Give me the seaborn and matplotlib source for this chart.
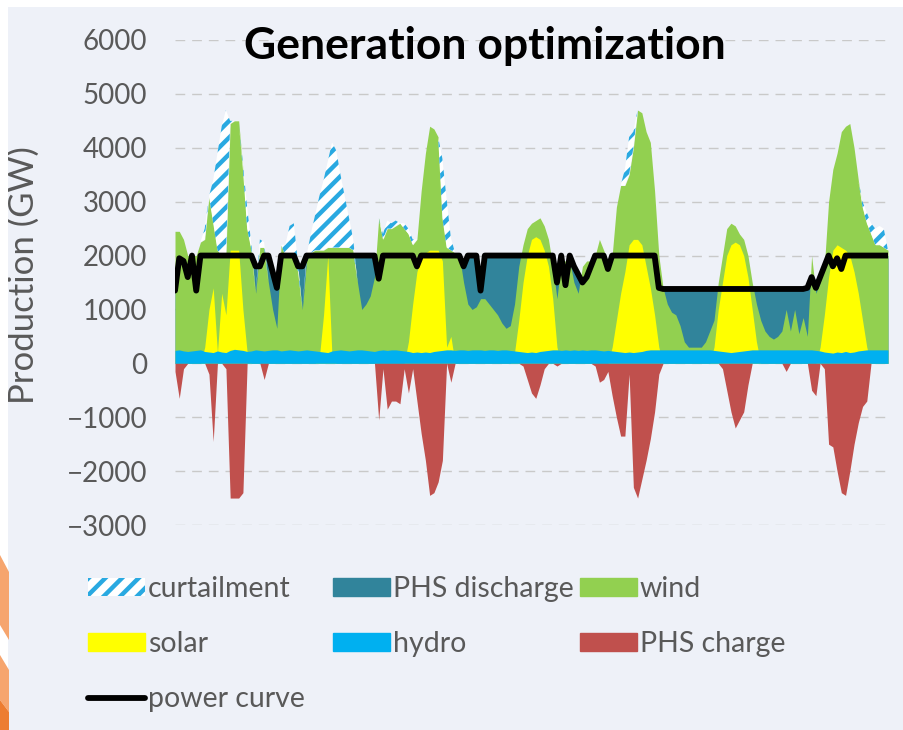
import numpy as np
import matplotlib.pyplot as plt
import seaborn as sns
from matplotlib.patches import Patch, Rectangle, Polygon
from matplotlib.lines import Line2D

# one week, hourly (168 h + closing point)
hours = np.arange(169)

wind = [
    2450, 2450, 2300, 2000, 2000, 2000, 2250, 2300, 3100, 2600, 2100, 2000, 2000, 4450, 4500, 4500, 3600, 2500, 2100, 1300, 2150, 2150, 1500, 1000,
    650, 2200, 2000, 2000, 2000, 1700, 1000, 1900, 2050, 2100, 2100, 2100, 2150, 2150, 2150, 2150, 2150, 2150, 2100, 1500, 1000, 1100, 1250, 1600,
    2700, 2300, 2500, 2500, 2550, 2600, 2500, 2400, 2200, 2300, 3200, 3900, 4400, 4350, 4200, 2700, 2150, 2100, 2050, 2000, 1500, 1100, 1000, 1050,
    1200, 1200, 1100, 1000, 900, 750, 650, 700, 1100, 1800, 2200, 2500, 2600, 2650, 2700, 2550, 2300, 1800, 1200, 1900, 1900, 1900, 1500, 1300,
    1800, 1900, 1900, 2000, 2300, 2100, 1900, 2000, 2900, 3300, 3300, 3500, 4000, 4700, 4650, 4300, 4100, 3200, 2000, 1400, 1100, 950, 900, 700,
    400, 300, 300, 300, 300, 400, 600, 800, 1500, 2000, 2500, 2600, 2550, 2400, 2300, 2000, 1500, 1100, 800, 600, 500, 450, 500, 600,
    1000, 600, 1000, 550, 850, 500, 2000, 1300, 1500, 1800, 3000, 3600, 3900, 4300, 4400, 4450, 4000, 3400, 2900, 2600, 2400, 2200, 2200, 2150, 2100,
]

curtailment = [
    0, 0, 0, 0, 0, 0, 0, 200, 0, 800, 1800, 2400, 2700, 50, 0, 0, 100, 400, 100, 0, 150, 100, 0, 0,
    0, 0, 200, 550, 600, 150, 0, 100, 350, 650, 1000, 1300, 1600, 1950, 1800, 1350, 950, 550, 200, 0, 0, 0, 0, 0,
    0, 100, 150, 100, 100, 0, 100, 100, 100, 0, 0, 0, 0, 0, 0, 1100, 900, 230, 0, 0, 0, 0, 0, 0,
    0, 0, 0, 0, 0, 0, 0, 0, 0, 0, 0, 0, 0, 0, 0, 0, 0, 0, 0, 0, 0, 0, 0, 0,
    0, 0, 0, 0, 0, 0, 0, 0, 0, 0, 300, 700, 300, 0, 0, 0, 0, 0, 0, 0, 0, 0, 0, 0,
    0, 0, 0, 0, 0, 0, 0, 0, 0, 0, 0, 0, 0, 0, 0, 0, 0, 0, 0, 0, 0, 0, 0, 0,
    0, 0, 0, 0, 0, 0, 0, 0, 0, 0, 0, 0, 0, 0, 0, 0, 0, 0, 100, 200, 200, 300, 350, 350, 0,
]

solar = [
    0, 0, 0, 0, 0, 0, 0, 300, 1000, 1400, 200, 1300, 900, 2100, 2100, 2100, 1000, 200, 0, 0, 0, 0, 0, 0,
    0, 0, 0, 0, 0, 0, 0, 0, 0, 0, 100, 900, 2000, 100, 0, 0, 0, 0, 0, 0, 0, 0, 0, 0,
    0, 0, 0, 0, 0, 0, 0, 400, 1100, 1700, 1950, 2050, 2100, 2100, 2100, 1900, 300, 500, 0, 0, 0, 0, 0, 0,
    0, 0, 0, 0, 0, 0, 0, 0, 200, 800, 1500, 2000, 2300, 2350, 2300, 2100, 1800, 1200, 300, 0, 0, 0, 0, 0,
    0, 0, 0, 0, 0, 0, 0, 300, 800, 1300, 1700, 2200, 2300, 2300, 2200, 1800, 1400, 900, 300, 0, 0, 0, 0, 0,
    0, 0, 0, 0, 0, 0, 0, 300, 1000, 1500, 2000, 2200, 2250, 2200, 2000, 1600, 1000, 400, 0, 0, 0, 0, 0, 0,
    0, 0, 0, 0, 0, 0, 0, 0, 300, 900, 1600, 2100, 2200, 2150, 2100, 2000, 1700, 1300, 800, 300, 0, 0, 0, 0, 0,
]

hydro = [
    240, 250, 230, 220, 230, 240, 250, 220, 210, 200, 230, 210, 200, 240, 260, 250, 240, 220, 230, 250, 240, 230, 240, 250,
    250, 230, 240, 250, 240, 230, 240, 250, 240, 230, 220, 210, 200, 230, 240, 250, 240, 230, 240, 250, 250, 240, 230, 220,
    240, 250, 240, 250, 250, 240, 230, 220, 200, 210, 200, 210, 200, 220, 230, 240, 250, 250, 240, 250, 250, 240, 250, 250,
    250, 240, 250, 250, 240, 250, 250, 240, 230, 220, 210, 200, 210, 200, 220, 230, 240, 250, 250, 240, 250, 240, 250, 240,
    250, 240, 250, 250, 240, 230, 240, 230, 220, 210, 200, 210, 200, 210, 220, 240, 250, 250, 250, 250, 250, 250, 250, 250,
    250, 250, 250, 250, 250, 250, 250, 240, 230, 220, 210, 200, 210, 220, 230, 240, 250, 250, 250, 250, 250, 250, 250, 250,
    250, 250, 250, 250, 250, 250, 250, 240, 230, 210, 200, 190, 210, 200, 220, 200, 210, 230, 240, 250, 250, 250, 250, 250, 250,
]

phs_charge = [
    -150, -650, -100, 0, 0, 0, 0, 0, -200, -1450, 0, 0, -100, -2500, -2500, -2500, -2400, 0, 0, 0, 0, -300, 0, 0,
    0, 0, 0, 0, 0, 0, 0, 0, 0, 0, 0, 0, 0, 0, 0, 0, 0, 0, 0, 0, 0, 0, 0, 0,
    -1050, -100, -850, -700, -700, -750, -100, -550, -100, -700, -1300, -1800, -2450, -2400, -2200, -1800, 0, -350, 0, 0, 0, 0, 0, 0,
    0, 0, 0, 0, 0, 0, 0, 0, 0, 0, -50, -300, -550, -650, -400, -100, 0, 0, -50, 0, 0, 0, 0, 0,
    0, 0, 0, -50, -350, -300, -150, -600, -1000, -1350, -1350, -200, -2300, -2500, -2150, -1800, -1400, -900, -200, 0, 0, 0, 0, 0,
    0, 0, 0, 0, 0, 0, 0, 0, 0, -100, -500, -900, -1200, -1050, -900, -400, 0, 0, 0, 0, 0, 0, 0, 0,
    -150, 0, 0, 0, 0, 0, -500, -600, 0, -100, -1500, -1550, -2000, -2400, -2450, -2000, -1500, -1100, -800, -700, 0, 0, 0, 0, 0,
]

# demand met; PHS discharge fills the gap up to this curve
power_curve = [
    1350, 1950, 1900, 1600, 2000, 1350, 2000, 2000, 2000, 2000, 2000, 2000, 2000, 2000, 2000, 2000, 2000, 2000, 2000, 1800, 1800, 2000, 2000, 1700,
    1400, 2000, 2000, 2000, 2000, 1800, 1800, 2000, 2000, 2000, 2000, 2000, 2000, 2000, 2000, 2000, 2000, 2000, 2000, 2000, 2000, 2000, 2000, 2000,
    1570, 2000, 2000, 2000, 2000, 2000, 2000, 2000, 2000, 1800, 2000, 2000, 2000, 2000, 2000, 2000, 2000, 2000, 2000, 2000, 1800, 2000, 2000, 2000,
    1350, 2000, 2000, 2000, 2000, 2000, 2000, 2000, 2000, 2000, 2000, 2000, 2000, 2000, 2000, 2000, 2000, 2000, 1500, 2000, 1450, 2000, 1800, 1650,
    1500, 1600, 1800, 2000, 2000, 2000, 1750, 2000, 2000, 2000, 2000, 2000, 2000, 2000, 2000, 2000, 2000, 2000, 1400, 1380, 1380, 1380, 1380, 1380,
    1380, 1380, 1380, 1380, 1380, 1380, 1380, 1380, 1380, 1380, 1380, 1380, 1380, 1380, 1380, 1380, 1380, 1380, 1380, 1380, 1380, 1380, 1380, 1380,
    1380, 1380, 1380, 1380, 1380, 1400, 1600, 1400, 1600, 1800, 2000, 1800, 1950, 1750, 2000, 2000, 2000, 2000, 2000, 2000, 2000, 2000, 2000, 2000, 2000,
]

y_ticks = [-3000, -2000, -1000, 0, 1000, 2000, 3000, 4000, 5000, 6000]

BG = "#eef1f8"
GREY = "#595959"
colors = {
    "curtailment": "#29a9e1",
    "PHS discharge": "#31849b",
    "wind": "#92d050",
    "solar": "#ffff00",
    "hydro": "#00b0f0",
    "PHS charge": "#c0504d",
}

sns.set_style("white")
plt.rcParams["font.family"] = ["Lato", "DejaVu Sans"]
plt.rcParams["hatch.linewidth"] = 3.2

fig = plt.figure(figsize=(9.04, 7.30), dpi=100, facecolor=BG)
ax = fig.add_axes([175 / 904, 1 - 525 / 730, 713 / 904, 485 / 730])
ax.set_facecolor(BG)

w = np.array(wind)
c = np.array(curtailment)

ax.fill_between(hours, 0, power_curve, color=colors["PHS discharge"], lw=0)
ax.fill_between(hours, 0, w, color=colors["wind"], lw=0)
ax.fill_between(hours, w, w + c, facecolor="white", edgecolor=colors["curtailment"],
                hatch="//", lw=0)
ax.fill_between(hours, 0, solar, color=colors["solar"], lw=0)
ax.fill_between(hours, 0, hydro, color=colors["hydro"], lw=0)
ax.fill_between(hours, 0, phs_charge, color=colors["PHS charge"], lw=0)
sns.lineplot(x=hours, y=power_curve, color="black", lw=4.2, ax=ax, legend=False)

ax.set_xlim(0, 168)
ax.set_ylim(-3000, 6000)
ax.set_yticks(y_ticks)
ax.set_xticks([])
ax.tick_params(axis="y", length=0, pad=20, labelsize=20, labelcolor=GREY)
ax.set_axisbelow(True)
ax.yaxis.grid(True, color="#c9c9c9", lw=1, linestyle=(0, (7, 5)))
ax.xaxis.grid(False)
sns.despine(ax=ax, left=True, bottom=True)
ax.set_xlabel("")
ax.set_ylabel("Production (GW)", fontsize=25, color=GREY)
ax.yaxis.set_label_coords(-0.19, 0.515)

fig.text(485 / 904, 1 - 46 / 730, "Generation optimization", fontsize=32,
         fontweight="bold", color="black", ha="center", va="center")

# slide frame bits
fig.add_artist(Rectangle((0, 1 - 7 / 730), 1, 7 / 730, transform=fig.transFigure,
                         color="white", lw=0))
fig.add_artist(Rectangle((0, 0), 8 / 904, 1, transform=fig.transFigure,
                         color="white", lw=0))
px = lambda x, y: (x / 904, 1 - y / 730)
fig.add_artist(Polygon([px(0, 555), px(9, 572), px(9, 640), px(0, 625)],
                       transform=fig.transFigure, color="#f6a56e", lw=0))
fig.add_artist(Polygon([px(0, 655), px(9, 670), px(9, 712), px(0, 700)],
                       transform=fig.transFigure, color="#f6a56e", lw=0))
fig.add_artist(Polygon([px(0, 700), px(9, 712), px(9, 730), px(0, 730)],
                       transform=fig.transFigure, color="#ed7d31", lw=0))

legend_kw = dict(loc="upper left", frameon=False, fontsize=20.5, labelcolor=GREY,
                 handlelength=2.0, handleheight=0.58, handletextpad=0.1,
                 labelspacing=1.02, borderpad=0, borderaxespad=0)
col1 = [Patch(facecolor="white", edgecolor=colors["curtailment"], hatch="//", lw=0),
        Patch(color=colors["solar"]),
        Line2D([0], [0], color="black", lw=4.2)]
col2 = [Patch(color=colors["PHS discharge"]), Patch(color=colors["hydro"])]
col3 = [Patch(color=colors["wind"]), Patch(color=colors["PHS charge"])]
fig.legend(col1, ["curtailment", "solar", "power curve"], bbox_to_anchor=px(88, 576), **legend_kw)
fig.legend(col2, ["PHS discharge", "hydro"], bbox_to_anchor=px(333, 576), **legend_kw)
fig.legend(col3, ["wind", "PHS charge"], bbox_to_anchor=px(580, 576), **legend_kw)

fig.savefig("out.png", dpi=100, facecolor=BG)
plt.close(fig)
